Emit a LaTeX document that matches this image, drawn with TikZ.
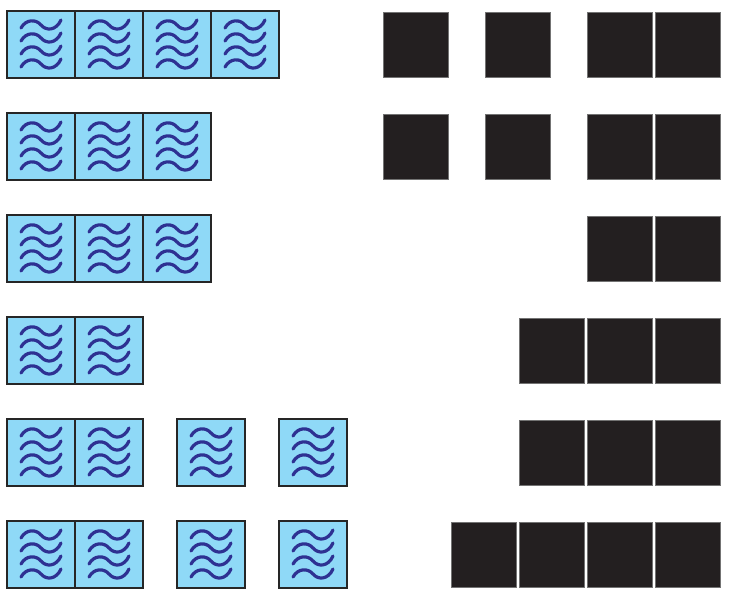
\documentclass[tikz,border=0pt]{standalone}
\usepackage{xcolor}
\usepackage{tikz}
\usetikzlibrary{positioning}
\definecolor{sea}{HTML}{8FD9F7}
\definecolor{ink}{HTML}{2E3192}
\definecolor{coal}{HTML}{231F20}

\begin{document}
\begin{tikzpicture}[
  x=1pt, y=-1pt,
  node distance=0pt and 0pt,
  wave/.style={draw=ink, line width=3.2pt, line cap=round},
  waves/.pic={\foreach \dy in {-19.5,-6.5,6.5,19.5}
      \draw[wave, shift={(0,\dy)}]
        (-20,3) .. controls (-15,-6) and (-5,-6) .. (0,0) .. controls (5,6) and (15,6) .. (20,-5);},
  tile/.style={draw=black!85, line width=1.1pt, fill=sea, minimum width=68pt, minimum height=67pt, inner sep=0pt, outer sep=0pt},
  blk/.style={draw=black!55, line width=0.8pt, fill=coal, minimum size=65pt, inner sep=0pt, outer sep=0pt}
]
\useasboundingbox (0,0) rectangle (730,589);
% water tiles, left side
\node[tile] (w11) at (41,44.5) {};
\node[tile, right=of w11] (w12) {};
\node[tile, right=of w12] (w13) {};
\node[tile, right=of w13] (w14) {};
\node[tile, below=35pt of w11] (w21) {};
\node[tile, right=of w21] (w22) {};
\node[tile, right=of w22] (w23) {};
\node[tile, below=35pt of w21] (w31) {};
\node[tile, right=of w31] (w32) {};
\node[tile, right=of w32] (w33) {};
\node[tile, below=35pt of w31] (w41) {};
\node[tile, right=of w41] (w42) {};
\node[tile, below=35pt of w41] (w51) {};
\node[tile, right=of w51] (w52) {};
\node[tile, right=34pt of w52] (w53) {};
\node[tile, right=34pt of w53] (w54) {};
\node[tile, below=35pt of w51] (w61) {};
\node[tile, right=of w61] (w62) {};
\node[tile, right=34pt of w62] (w63) {};
\node[tile, right=34pt of w63] (w64) {};
\foreach \t in {w11,w12,w13,w14,w21,w22,w23,w31,w32,w33,w41,w42,w51,w52,w53,w54,w61,w62,w63,w64}
  \pic at (\t.center) {waves};
% black squares, right side
\foreach \r/\xs in {1/{415.5,517.5,619.5,687.5}, 2/{415.5,517.5,619.5,687.5}, 3/{619.5,687.5},
                    4/{551.5,619.5,687.5}, 5/{551.5,619.5,687.5}, 6/{483.5,551.5,619.5,687.5}}
  \foreach \x [count=\c] in \xs
    \node[blk] (b\r\c) at (\x,{44.5+102*(\r-1)}) {};
\end{tikzpicture}
\end{document}
